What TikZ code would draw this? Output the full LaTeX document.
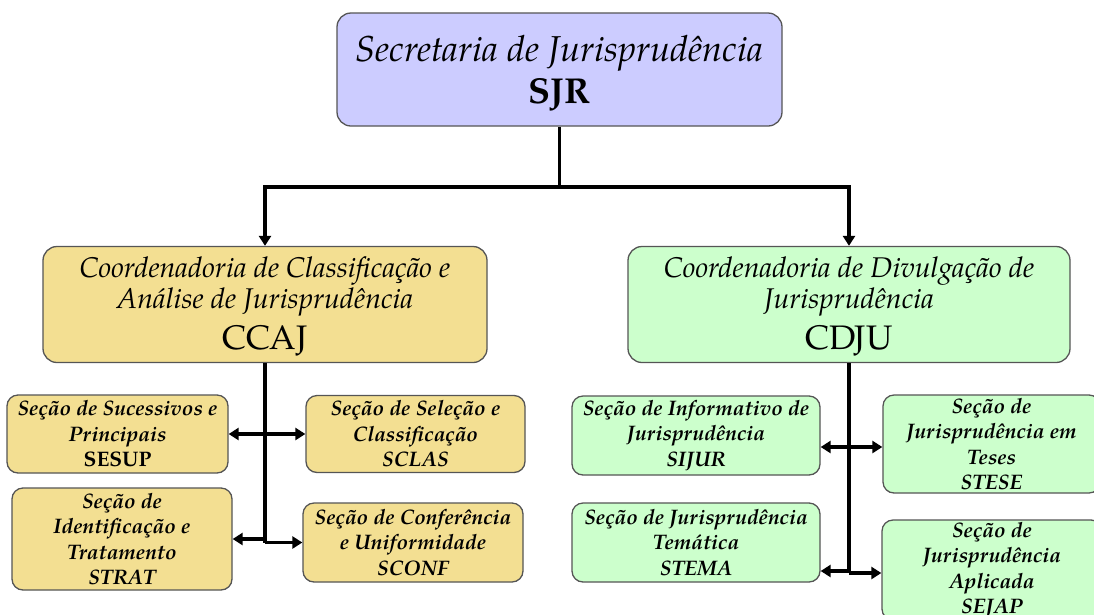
\documentclass[tikz,border=0pt]{standalone}
\usepackage{fontspec}
\setmainfont{TeX Gyre Pagella}
\usetikzlibrary{arrows.meta}
\definecolor{lav}{HTML}{CCCCFF}
\definecolor{gold}{HTML}{F3DF92}
\definecolor{mint}{HTML}{CCFFCC}
\definecolor{edge}{HTML}{555555}
\tikzset{
  box/.style={draw=edge, line width=1.3pt, rounded corners=14pt, align=center, inner sep=0pt, text=black},
  bigbox/.style={box, minimum width=444pt, minimum height=116pt, font=\fontsize{28.5}{31}\selectfont\itshape},
  secbox/.style={box, rounded corners=11pt, font=\fontsize{21}{25.5}\selectfont\bfseries\itshape},
  conn/.style={line width=3.6pt, draw=black},
  arr/.style={conn, -{Triangle[length=10pt,width=12pt]}},
  darr/.style={conn, {Triangle[length=10pt,width=12pt]}-{Triangle[length=10pt,width=12pt]}},
}
\begin{document}
\begin{tikzpicture}[x=1pt,y=-1pt]
\useasboundingbox (0,0) rectangle (1094,614);
\clip (0,0) rectangle (1094,614);

% top
\node[box, fill=lav, minimum width=445pt, minimum height=113pt, font=\fontsize{36}{42}\selectfont] (SJR) at (559.5,69.5)
  {\rule{0pt}{34pt}{\itshape Secretaria de Jurisprudência}\\
   {\bfseries SJR}};

% coordinations
\node[bigbox, fill=gold] (CCAJ) at (265,304.5)
  {\rule{0pt}{24pt}Coordenadoria de Classificação e\\
   Análise de Jurisprudência\\[8pt]
   {\fontsize{34}{39}\selectfont\upshape CCAJ}};
\node[bigbox, fill=mint, minimum width=442pt] (CDJU) at (849,304.5)
  {\rule{0pt}{24pt}Coordenadoria de Divulgação de\\
   Jurisprudência\\[8pt]
   {\fontsize{34}{39}\selectfont\upshape CDJU}};

% CCAJ sections
\node[secbox, fill=gold, minimum width=221pt, minimum height=78pt] (SESUP) at (117.5,434)
  {Seção de Sucessivos e\\Principais\\{\upshape SESUP}};
\node[secbox, fill=gold, minimum width=219pt, minimum height=77pt] (SCLAS) at (415.5,434)
  {Seção de Seleção e\\Classificação\\SCLAS};
\node[secbox, fill=gold, minimum width=220pt, minimum height=102pt] (STRAT) at (122,539)
  {Seção de\\Identificação e\\Tratamento\\STRAT};
\node[secbox, fill=gold, minimum width=220pt, minimum height=79pt] (SCONF) at (413,542.5)
  {Seção de Conferência\\e Uniformidade\\SCONF};

% CDJU sections
\node[secbox, fill=mint, minimum width=248pt, minimum height=79pt] (SIJUR) at (696,435.5)
  {Seção de Informativo de\\Jurisprudência\\SIJUR};
\node[secbox, fill=mint, minimum width=248pt, minimum height=79pt] (STEMA) at (696,542.5)
  {Seção de Jurisprudência\\Temática\\STEMA};
\node[secbox, fill=mint, minimum width=217pt, minimum height=98pt] (STESE) at (991.5,444)
  {Seção de\\Jurisprudência em\\Teses\\STESE};
\node[secbox, fill=mint, minimum width=220pt, minimum height=100pt] (SEJAP) at (992,570)
  {Seção de\\Jurisprudência\\Aplicada\\SEJAP};

% connectors from SJR
\coordinate (j0) at (SJR.south |- 0,187);
\draw[conn] (SJR.south) -- (j0);
\draw[arr] (j0) -| (CCAJ.north);
\draw[arr] (j0) -| (CDJU.north);

% CCAJ connectors
\coordinate (lb) at (CCAJ.south |- STRAT.east);
\coordinate (lc) at (CCAJ.south |- SCONF.west);
\draw[conn] (CCAJ.south) -- (lc);
\draw[darr] (SESUP.east) -- (SESUP.east -| SCLAS.west);
\draw[arr] (lb) -- (STRAT.east);
\draw[arr] (lc) -- (SCONF.west);

% CDJU connectors
\coordinate (ra) at (CDJU.south |- 0,447);
\coordinate (rb) at (CDJU.south |- 0,571);
\coordinate (rc) at (CDJU.south |- 0,573);
\draw[conn] (CDJU.south) -- (rc);
\draw[darr] (ra -| SIJUR.east) -- (ra -| STESE.west);
\draw[arr] (rb) -- (rb -| STEMA.east);
\draw[arr] (rc) -- (rc -| SEJAP.west);
\end{tikzpicture}
\end{document}
